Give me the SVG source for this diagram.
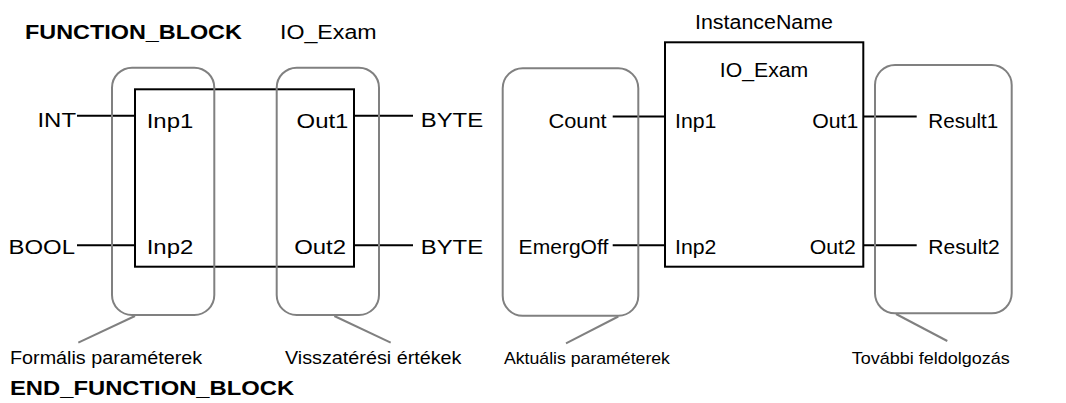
<svg xmlns="http://www.w3.org/2000/svg" width="1066" height="403" viewBox="0 0 1066 403">
<style>
text{font-family:"Liberation Sans",Arial,sans-serif;fill:#000}
.blk{fill:none;stroke:#000;stroke-width:2}
.wire{stroke:#000;stroke-width:2;fill:none}
.grp{fill:none;stroke:#808080;stroke-width:2}
.call{stroke:#808080;stroke-width:2}
</style>
<rect width="1066" height="403" fill="#fff"/>
<g id="headers">
<text font-size="19.5" font-weight="bold" transform="translate(25,39) scale(1.2,1)">FUNCTION_BLOCK</text>
<text font-size="20" transform="translate(280,39) scale(1.16,1)">IO_Exam</text>
<text font-size="19.5" font-weight="bold" transform="translate(10,395) scale(1.22,1)">END_FUNCTION_BLOCK</text>
</g>
<g id="connectors">
<line class="wire" x1="77" y1="115.7" x2="135" y2="115.7"/>
<line class="wire" x1="354" y1="115.7" x2="413" y2="115.7"/>
<line class="wire" x1="77" y1="245.3" x2="135" y2="245.3"/>
<line class="wire" x1="354" y1="245.3" x2="413" y2="245.3"/>
<line class="wire" x1="612.7" y1="116.5" x2="665" y2="116.5"/>
<line class="wire" x1="863" y1="116.5" x2="916.7" y2="116.5"/>
<line class="wire" x1="612.7" y1="245.3" x2="665" y2="245.3"/>
<line class="wire" x1="863" y1="245.3" x2="916.7" y2="245.3"/>
<line class="call" x1="135" y1="316" x2="78.3" y2="342.7"/>
<line class="call" x1="334.3" y1="316" x2="390.7" y2="342.7"/>
<line class="call" x1="618.3" y1="316.5" x2="566" y2="343.3"/>
<line class="call" x1="896" y1="314" x2="947.3" y2="341"/>
</g>
<g id="decl-block" font-size="21">
<rect class="blk" x="135" y="89.3" width="219" height="177.4"/>
<text transform="translate(146.7,128) scale(1.14,1)">Inp1</text>
<text transform="translate(146.7,253.5) scale(1.14,1)">Inp2</text>
<text transform="translate(348.4,128) scale(1.14,1)" text-anchor="end">Out1</text>
<text transform="translate(346,253.5) scale(1.14,1)" text-anchor="end">Out2</text>
</g>
<g id="decl-types" font-size="21">
<text transform="translate(76,127) scale(1.14,1)" text-anchor="end">INT</text>
<text transform="translate(75,254) scale(1.14,1)" text-anchor="end">BOOL</text>
<text transform="translate(420.7,127) scale(1.14,1)">BYTE</text>
<text transform="translate(420.7,254) scale(1.14,1)">BYTE</text>
</g>
<g id="formal-params">
<rect class="grp" x="112" y="67.7" width="102.3" height="247.3" rx="20" ry="20"/>
<text font-size="17.5" transform="translate(10,363.5) scale(1.13,1)">Formális paraméterek</text>
</g>
<g id="return-values">
<rect class="grp" x="276.7" y="67.7" width="102.3" height="247.3" rx="20" ry="20"/>
<text font-size="17.5" transform="translate(285,363.5) scale(1.13,1)">Visszatérési értékek</text>
</g>
<g id="instance-block" font-size="19.5">
<text font-size="20" transform="translate(764,28.5) scale(1.07,1)" text-anchor="middle">InstanceName</text>
<rect class="blk" x="665" y="42.3" width="198.3" height="224.4"/>
<text transform="translate(764,77.3) scale(1.09,1)" text-anchor="middle">IO_Exam</text>
<text transform="translate(675,128) scale(1.09,1)">Inp1</text>
<text transform="translate(675,253.5) scale(1.09,1)">Inp2</text>
<text transform="translate(858.3,128) scale(1.09,1)" text-anchor="end">Out1</text>
<text transform="translate(855.7,253.5) scale(1.09,1)" text-anchor="end">Out2</text>
</g>
<g id="actual-params" font-size="19.5">
<rect class="grp" x="502.7" y="68.3" width="135.6" height="247.4" rx="20" ry="20"/>
<text transform="translate(606.7,127.5) scale(1.12,1)" text-anchor="end">Count</text>
<text transform="translate(608.3,254) scale(1.08,1)" text-anchor="end">EmergOff</text>
<text font-size="17" transform="translate(504,364) scale(1.04,1)">Aktuális paraméterek</text>
</g>
<g id="further-processing" font-size="19.5">
<rect class="grp" x="875" y="65" width="136.7" height="248.3" rx="20" ry="20"/>
<text transform="translate(928.3,127.5) scale(1.06,1)">Result1</text>
<text transform="translate(928.3,254) scale(1.08,1)">Result2</text>
<text font-size="17" transform="translate(851.7,364) scale(1.06,1)">További feldolgozás</text>
</g>
</svg>
